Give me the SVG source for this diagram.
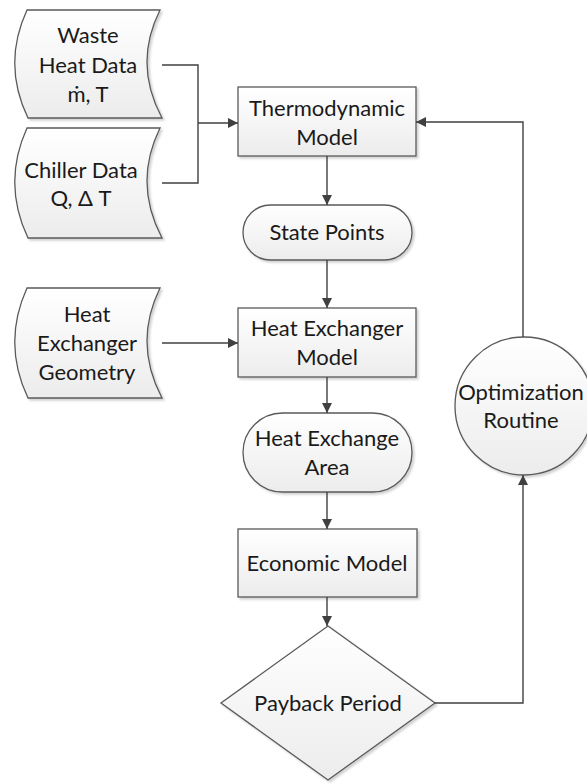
<svg xmlns="http://www.w3.org/2000/svg" width="587" height="784" viewBox="0 0 587 784">
<defs>
<linearGradient id="g" x1="0" y1="0" x2="0" y2="1">
<stop offset="0" stop-color="#ffffff"/>
<stop offset="1" stop-color="#ececec"/>
</linearGradient>
<filter id="sh" x="-10%" y="-10%" width="130%" height="130%">
<feDropShadow dx="2" dy="2" stdDeviation="1" flood-color="#000" flood-opacity="0.18"/>
</filter>
<marker id="ah" viewBox="0 0 10 10" refX="10" refY="5" markerWidth="10" markerHeight="10" markerUnits="userSpaceOnUse" orient="auto">
<path d="M0,0 L10,5 L0,10 Z" fill="#404040"/>
</marker>
<style>
.s{fill:url(#g);stroke:#5a5a5a;stroke-width:1.3;filter:url(#sh)}
.t{font-family:Lato,"Liberation Sans",sans-serif;font-size:22px;fill:#1a1a1a;text-anchor:middle}
.c{fill:none;stroke:#404040;stroke-width:1.4}
.a{marker-end:url(#ah)}
</style>
</defs>
<rect width="587" height="784" fill="#fff"/>

<g id="waste">
<path class="s" d="M27,10 L160,10 Q133,64 162,118 L28,118 Q2,64 27,10 Z"/>
<text class="t" x="88" y="43">Waste</text>
<text class="t" x="88" y="73">Heat Data</text>
<text class="t" x="88" y="102">ṁ, T</text>
</g>
<g id="chiller">
<path class="s" d="M27,128 L160,128 Q133,183 162,238 L28,238 Q2,183 27,128 Z"/>
<text class="t" x="81" y="178">Chiller Data</text>
<text class="t" x="81" y="206">Q, Δ T</text>
</g>
<g id="geometry">
<path class="s" d="M27,288 L160,288 Q133,343 162,398 L28,398 Q2,343 27,288 Z"/>
<text class="t" x="87" y="322">Heat</text>
<text class="t" x="87" y="351">Exchanger</text>
<text class="t" x="87" y="380">Geometry</text>
</g>
<g id="thermo">
<rect class="s" x="238" y="87" width="178" height="69"/>
<text class="t" x="327" y="116">Thermodynamic</text>
<text class="t" x="327" y="145">Model</text>
</g>
<g id="state">
<rect class="s" x="243" y="205" width="169" height="55" rx="27.5"/>
<text class="t" x="327" y="240">State Points</text>
</g>
<g id="hxmodel">
<rect class="s" x="238" y="308" width="178" height="69"/>
<text class="t" x="327" y="336">Heat Exchanger</text>
<text class="t" x="327" y="365">Model</text>
</g>
<g id="area">
<rect class="s" x="243" y="413" width="169" height="79" rx="39.5"/>
<text class="t" x="327" y="446">Heat Exchange</text>
<text class="t" x="327" y="475">Area</text>
</g>
<g id="economic">
<rect class="s" x="238" y="529" width="179" height="68"/>
<text class="t" x="327" y="571">Economic Model</text>
</g>
<g id="payback">
<path class="s" d="M328,626 L435,703 L328,780 L221,703 Z"/>
<text class="t" x="328" y="711">Payback Period</text>
</g>
<g id="optimization">
<circle class="s" cx="524" cy="406" r="69"/>
<text class="t" x="521" y="400">Optimization</text>
<text class="t" x="521" y="428">Routine</text>
</g>

<g id="connectors">
<path class="c" d="M162,65 H198 V183 H162"/>
<path class="c a" d="M198,123 H238"/>
<path class="c a" d="M327,156 V205"/>
<path class="c a" d="M327,260 V308"/>
<path class="c a" d="M162,343 H238"/>
<path class="c a" d="M327,377 V413"/>
<path class="c a" d="M327,492 V529"/>
<path class="c a" d="M327,597 V626"/>
<path class="c a" d="M435,703 H523 V475"/>
<path class="c a" d="M523,337 V122 H416"/>
</g>
</svg>
